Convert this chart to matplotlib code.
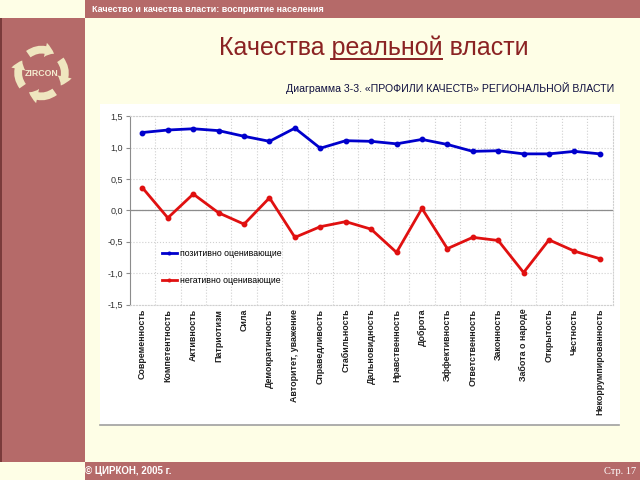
import matplotlib
matplotlib.use("Agg")
from matplotlib import pyplot as plt
from matplotlib.patches import Rectangle, FancyArrowPatch
from matplotlib.path import Path
from matplotlib.ticker import FixedLocator, FuncFormatter
import numpy as np

plt.rcParams["font.family"] = ["Liberation Sans", "DejaVu Sans"]

qualities = [
    "Современность", "Компетентность", "Активность", "Патриотизм", "Сила",
    "Демократичность", "Авторитет, уважение", "Справедливость", "Стабильность",
    "Дальновидность", "Нравственность", "Доброта", "Эффективность",
    "Ответственность", "Законность", "Забота о народе", "Открытость",
    "Честность", "Некоррумпированность",
]
positive = [1.24, 1.28, 1.30, 1.27, 1.18, 1.10, 1.31, 0.99, 1.11, 1.10,
            1.06, 1.13, 1.05, 0.94, 0.95, 0.90, 0.90, 0.94, 0.90]
negative = [0.36, -0.12, 0.26, -0.04, -0.22, 0.20, -0.43, -0.26, -0.18, -0.30,
            -0.67, 0.03, -0.61, -0.43, -0.48, -0.99, -0.47, -0.65, -0.77]
series_labels = ["позитивно оценивающие", "негативно оценивающие"]
y_ticks = [-1.5, -1.0, -0.5, 0.0, 0.5, 1.0, 1.5]

CREAM = "#fefee6"
SIDE_RED = "#b56a69"
TITLE_RED = "#8b2323"

fig = plt.figure(figsize=(6.4, 4.8), dpi=100)
fig.patch.set_facecolor(CREAM)

# page decoration in pixel coordinates
bg = fig.add_axes([0, 0, 1, 1], zorder=0)
bg.set_xlim(0, 640)
bg.set_ylim(480, 0)
bg.axis("off")
bg.add_patch(Rectangle((85, 0), 555, 18, facecolor=SIDE_RED, edgecolor="none"))
bg.add_patch(Rectangle((0, 18), 85, 444, facecolor=SIDE_RED, edgecolor="none"))
bg.add_patch(Rectangle((0, 18), 1.5, 444, facecolor="#7a3b3b", edgecolor="none"))
bg.add_patch(Rectangle((85, 462), 555, 18, facecolor=SIDE_RED, edgecolor="none"))
bg.add_patch(Rectangle((100, 104), 520, 321, facecolor="white",
                       edgecolor="none"))
bg.plot([100, 619], [425, 425], color="#a0a0a0", lw=1.2)

bg.text(92, 9, "Качество и качества власти: восприятие населения",
        color="white", fontsize=6.5, fontweight="bold", va="center")
bg.text(85, 471, "© ЦИРКОН, 2005 г.", color="white", fontsize=7,
        fontweight="bold", va="center")
bg.text(636, 471, "Стр. 17", color="white", fontsize=7.5,
        family="Liberation Serif", va="center", ha="right")

# title with the middle word underlined
title_words = ["Качества ", "реальной", " власти"]
title = bg.text(373.5, 55, "".join(title_words), color=TITLE_RED,
                fontsize=18, ha="center", va="baseline")
renderer = fig.canvas.get_renderer()
prop = title.get_fontproperties()
full_w = renderer.get_text_width_height_descent("".join(title_words), prop, ismath=False)[0]
pre_w = renderer.get_text_width_height_descent(title_words[0], prop, ismath=False)[0]
word_w = renderer.get_text_width_height_descent(title_words[1], prop, ismath=False)[0]
u0 = 373.5 - full_w / 2 + pre_w
bg.plot([u0, u0 + word_w], [58.5, 58.5], color=TITLE_RED, lw=1.4)

bg.text(614, 88, "Диаграмма 3-3. «ПРОФИЛИ КАЧЕСТВ» РЕГИОНАЛЬНОЙ ВЛАСТИ",
        color="#101040", fontsize=7.6, ha="right", va="center")

# logo: four arrows on a ring (quadratic bezier arcs, clockwise)
cx, cy, r = 41.5, 73, 23
span = 68
for start in [125, 35, -55, -145]:
    a0, a1 = np.radians(start), np.radians(start - span)
    am = (a0 + a1) / 2
    rc = r / np.cos(np.radians(span / 2))
    pts = [(cx + r * np.cos(a0), cy - r * np.sin(a0)),
           (cx + rc * np.cos(am), cy - rc * np.sin(am)),
           (cx + r * np.cos(a1), cy - r * np.sin(a1))]
    bg.add_patch(FancyArrowPatch(
        path=Path(pts, [Path.MOVETO, Path.CURVE3, Path.CURVE3]),
        arrowstyle="simple,head_width=1.4,head_length=0.9,tail_width=0.75",
        mutation_scale=7.5, color="#efe6bf", lw=0))
bg.text(cx, cy, "ZIRCON", color="#f4ecd0", fontsize=6.3, fontweight="bold",
        ha="center", va="center")

# chart
ax = fig.add_axes([0.2027, 0.3656, 0.7544, 0.3923], zorder=1)
ax.set_facecolor("white")
x = np.arange(len(qualities))
ax.plot(x, positive, color="#0000cc", lw=2, marker="o", ms=3.2,
        label=series_labels[0])
ax.plot(x, negative, color="#e01010", lw=2, marker="o", ms=3.2,
        label=series_labels[1])
ax.axhline(0, color="#8c8c8c", lw=0.9, zorder=1)

ax.set_xlim(-0.5, len(qualities) - 0.5)
ax.set_ylim(-1.5, 1.5)
ax.set_yticks(y_ticks)
ax.yaxis.set_major_formatter(FuncFormatter(lambda v, p: f"{v:.1f}".replace(".", ",")))
ax.set_xticks(x)
ax.set_xticklabels(qualities, rotation=90, fontsize=6.4, fontweight="bold",
                   color="#202020")
ax.xaxis.set_minor_locator(FixedLocator(x[:-1] + 0.5))
ax.tick_params(axis="x", which="both", length=0, pad=3)
ax.tick_params(axis="y", length=3, color="#8c8c8c", labelsize=6.5,
               labelcolor="#333333", pad=2)
ax.grid(axis="y", which="major", color="#d0d0d0", ls=":", lw=0.8)
ax.grid(axis="x", which="minor", color="#d0d0d0", ls=":", lw=0.8)
ax.set_axisbelow(True)
ax.spines["left"].set_color("#8c8c8c")
for side in ["top", "right", "bottom"]:
    ax.spines[side].set_color("#d0d0d0")
    ax.spines[side].set_linestyle(":")

ax.legend(loc="upper left", bbox_to_anchor=(0.05, 0.335), frameon=False,
          fontsize=6.3, handlelength=1.7, handletextpad=0.35, labelspacing=2.0,
          markerscale=0.6)

fig.savefig("out.png", dpi=100, facecolor=fig.get_facecolor())
